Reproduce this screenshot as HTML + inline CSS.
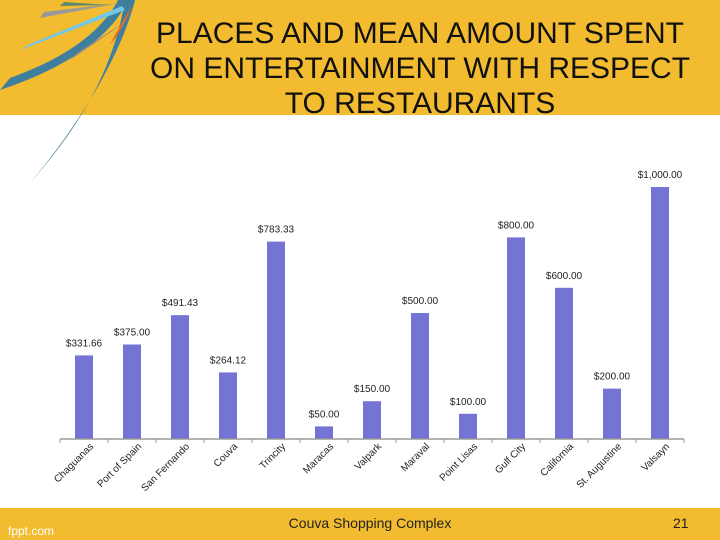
<!DOCTYPE html>
<html><head><meta charset="utf-8"><style>
body{margin:0;width:720px;height:540px;overflow:hidden;background:#fff;font-family:"Liberation Sans",sans-serif;position:relative}
.hdr{position:absolute;left:0;top:0;width:720px;height:115px;background:#f3bb30}
.ttl{position:absolute;left:120px;width:600px;top:16px;text-align:center;font-size:30px;line-height:35px;color:#111;white-space:nowrap}
.ftr{position:absolute;left:0;top:508px;width:720px;height:32px;background:#f3bb30}
</style></head><body>
<div class="hdr"></div>
<svg style="position:absolute;left:0;top:0" width="160" height="210">
<path d="M135 0 C120 60 70 140 15 200 C60 150 110 90 125 0Z" fill="#3d7f9c"/>
<path d="M128 0 C110 40 60 70 0 90 L10 78 C60 60 100 35 118 0Z" fill="#3d7f9c"/>
<path d="M125 10 L20 50 L30 44 L122 6Z" fill="#74c7e6"/>
<path d="M120 3 L40 18 L44 12Z" fill="#999"/>
<path d="M110 5 L60 6 L64 2Z" fill="#5a8a6a"/>
<path d="M132 5 C125 25 118 35 110 45 L115 35Z" fill="#e06a2a"/>
<path d="M128 20 L70 60 L78 52Z" fill="#888"/>
</svg>
<div class="ttl">PLACES AND MEAN AMOUNT SPENT<br>ON ENTERTAINMENT WITH RESPECT<br>TO RESTAURANTS</div>
<svg id="chart" style="position:absolute;left:0;top:0" width="720" height="540"></svg>
<div class="ftr"></div>
<div style="position:absolute;left:0;width:740px;top:515px;text-align:center;font-size:14px;color:#222">Couva Shopping Complex</div>
<div style="position:absolute;left:673px;top:515px;font-size:14px;color:#222">21</div>
<div style="position:absolute;left:8px;top:524px;font-size:12px;color:#fff">fppt.com</div>
<script>
const categories=["Chaguanas","Port of Spain","San Fernando","Couva","Trincity","Maracas","Valpark","Maraval","Point Lisas","Gulf City","California","St. Augustine","Valsayn"];
const values=[331.66,375,491.43,264.12,783.33,50,150,500,100,800,600,200,1000];
const valueLabels=["$331.66","$375.00","$491.43","$264.12","$783.33","$50.00","$150.00","$500.00","$100.00","$800.00","$600.00","$200.00","$1,000.00"];
const svg=document.getElementById('chart');const NS="http://www.w3.org/2000/svg";
const x0=60,x1=684,y0=439,maxV=1000,hPx=252;
const bw=(x1-x0)/categories.length;
const xc=i=>x0+bw*(i+0.5);const y=v=>y0-v/maxV*hPx;
function mk(t,a){const e=document.createElementNS(NS,t);for(const k in a)e.setAttribute(k,a[k]);svg.appendChild(e);return e;}
values.forEach((v,i)=>{
 const r=mk('rect',{x:xc(i)-9,y:y(v),width:18,height:y0-y(v),fill:'#7474d4'});
 
 
 const t=mk('text',{x:xc(i),y:y(v)-9,'text-anchor':'middle','font-size':'10','fill':'#222'});
 t.textContent=valueLabels[i];
 
 
 const tx=xc(i)+10,ty=y0+8;
 const c=mk('text',{x:tx,y:ty,'text-anchor':'end','font-size':'10','fill':'#222',transform:`rotate(-45 ${tx} ${ty})`});
 c.textContent=categories[i];
 
 
});
const ax=mk('line',{x1:x0,y1:y0,x2:x1,y2:y0,stroke:'#999','stroke-width':1.5});


for(let i=0;i<=categories.length;i++){const tk=mk('line',{x1:x0+bw*i,y1:y0,x2:x0+bw*i,y2:y0+4,stroke:'#999'});
 
 }
</script>
</body></html>
